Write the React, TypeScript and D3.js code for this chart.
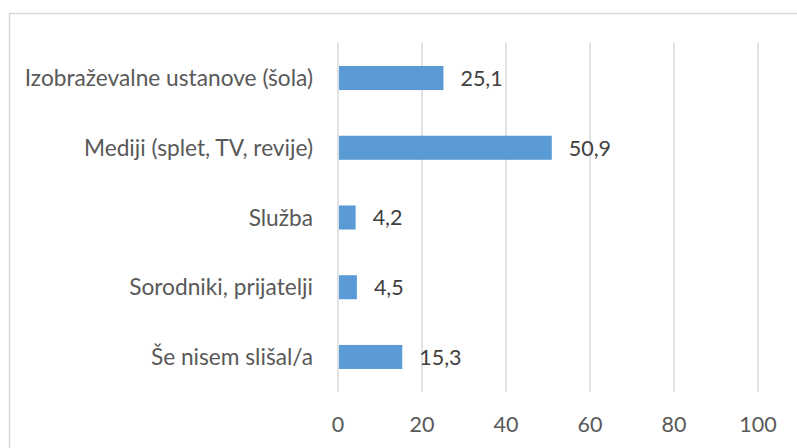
import React from "react";
import * as d3 from "d3";

const categories = [
  "Izobraževalne ustanove (šola)",
  "Mediji (splet, TV, revije)",
  "Služba",
  "Sorodniki, prijatelji",
  "Še nisem slišal/a",
];
const values = [25.1, 50.9, 4.2, 4.5, 15.3];
const ticks = [0, 20, 40, 60, 80, 100];

const W = 797;
const H = 448;
const FONT = "Lato, 'Liberation Sans', sans-serif";

export default function App() {
  const x = d3.scaleLinear().domain([0, 100]).range([338, 758]);
  const y = d3.scaleBand().domain(categories).range([43, 392]).paddingInner(0.655).paddingOuter(0.33);
  const fmt = (v: number) => v.toFixed(1).replace(".", ",");
  return (
    <svg width={W} height={H} style={{ position: "absolute", left: 0, top: 0, background: "#fff" }} fontFamily={FONT}>
      <rect x={9.5} y={13.5} width={820} height={460} fill="#fff" stroke="#d9d9d9" strokeWidth={1.5} />
      {ticks.map((t) => (
        <g key={t}>
          <line x1={x(t)} x2={x(t)} y1={43} y2={392} stroke="#d9d9d9" strokeWidth={1.5} />
          <text x={x(t)} y={432} textAnchor="middle" fontSize={21.5} fill="#595959">{t}</text>
        </g>
      ))}
      {categories.map((c, i) => {
        const yc = (y(c) as number) + y.bandwidth() / 2;
        return (
          <g key={c}>
            <rect x={x(0) + 1} y={y(c)} width={x(values[i]) - x(0) - 1} height={y.bandwidth()} fill="#5b9bd5" />
            <text x={313} y={yc} dy="0.36em" textAnchor="end" fontSize={22.7} fill="#595959">{c}</text>
            <text x={x(values[i]) + 17} y={yc} dy="0.36em" fontSize={21.5} fill="#404040">{fmt(values[i])}</text>
          </g>
        );
      })}
    </svg>
  );
}
